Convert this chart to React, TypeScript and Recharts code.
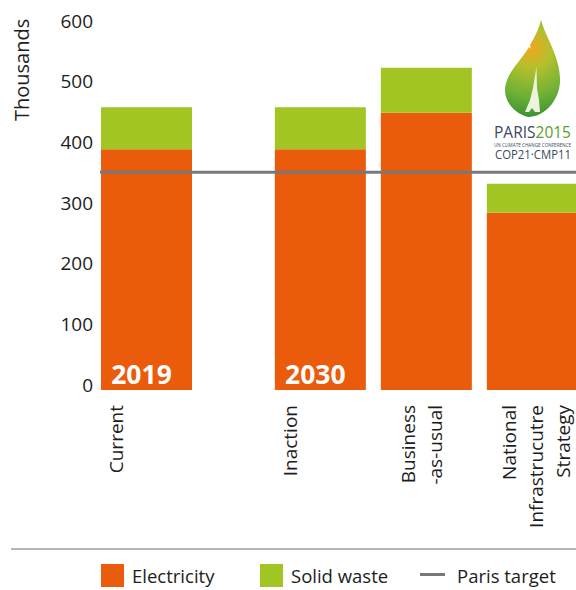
import React from 'react';
import { ComposedChart, Bar, XAxis, YAxis, ReferenceLine, LabelList, Legend } from 'recharts';

const FONT = '"Open Sans", sans-serif';
const TEXT = '#1d1d1b';
const ORANGE = '#ea5b0c';
const GREEN = '#a2c523';
const GREY = '#77787b';

const categories = [['Current'], ['Inaction'], ['Business', '-as-usual'], ['National', 'Infrastrucutre', 'Strategy']];
const slots = [0, 1.64, 2.64, 3.64];
const periods = ['2019', '2030', '', ''];
const electricity = [397, 397, 457, 292];
const solidWaste = [69, 69, 74, 48];
const parisTarget = 359;
const yTicks = [0, 100, 200, 300, 400, 500, 600];
const yTickLabels = ['0', '100', '200', '300', '400', '500', '600'];

const data = slots.map((slot, i) => ({
  slot,
  lines: categories[i],
  period: periods[i],
  electricity: electricity[i],
  solidWaste: solidWaste[i],
}));

const firstLineOffset: Record<number, number> = { 1: -24, 2: -11.5, 3: -16.5 };

const CategoryTick = ({ x, payload }: any) => {
  const row = data.find((d) => d.slot === payload.value);
  if (!row) return null;
  return (
    <g>
      {row.lines.map((line, i) => {
        const lx = x + firstLineOffset[row.lines.length] + i * 27;
        return (
          <text
            key={line}
            transform={`translate(${lx},405) rotate(-90)`}
            textAnchor="end"
            fontFamily={FONT}
            fontSize={19}
            fill={TEXT}
          >
            {line}
          </text>
        );
      })}
    </g>
  );
};

const LegendRow = () => (
  <div style={{ position: 'relative', width: 576, height: 42, fontFamily: FONT, fontSize: 18.5, color: TEXT }}>
    <div style={{ position: 'absolute', left: 101, top: 16, width: 23, height: 23, background: ORANGE }} />
    <div style={{ position: 'absolute', left: 132, top: 15, lineHeight: '25px' }}>Electricity</div>
    <div style={{ position: 'absolute', left: 260, top: 16, width: 23, height: 23, background: GREEN }} />
    <div style={{ position: 'absolute', left: 291, top: 15, lineHeight: '25px' }}>Solid waste</div>
    <div style={{ position: 'absolute', left: 420, top: 25, width: 25, height: 3, background: GREY }} />
    <div style={{ position: 'absolute', left: 457, top: 15, lineHeight: '25px' }}>Paris target</div>
  </div>
);

const Logo = () => (
  <svg width={96} height={156} viewBox="480 10 96 156" style={{ position: 'absolute', left: 480, top: 10 }}>
    <defs>
      <radialGradient id="leaf" gradientUnits="userSpaceOnUse" cx={531} cy={48} r={68}>
        <stop offset="0" stopColor="#f3a51f" />
        <stop offset="0.3" stopColor="#b3c02c" />
        <stop offset="0.7" stopColor="#6fb136" />
        <stop offset="1" stopColor="#3f9434" />
      </radialGradient>
    </defs>
    <path
      d="M541 20 C545 36 561 58 560 82 C559 101 544 117 528 117 C514 113 505 102 505 90 C505 74 520 62 529 47 L531 49 L530 45 C535 37 539 28 541 20 Z"
      fill="url(#leaf)"
    />
    <path d="M536.5 67 L537 88 L539 100 L540 112 L535 112 L532 108 L529 112 L525 112 L530 100 L533 88 Z" fill="#eef3dd" />
    <text x={494} y={138} fontFamily={FONT} fontSize={15.5} textLength={77} lengthAdjust="spacingAndGlyphs" fill="#3b4a63">
      PARIS<tspan fill="#5aa02c">2015</tspan>
    </text>
    <text x={494} y={146.5} fontFamily={FONT} fontSize={5.2} textLength={77} lengthAdjust="spacingAndGlyphs" fill="#3b4a63">
      UN CLIMATE CHANGE CONFERENCE
    </text>
    <text x={495} y={159} fontFamily={FONT} fontSize={13.5} textLength={76} lengthAdjust="spacingAndGlyphs" fill="#3b4a63">
      COP21·CMP11
    </text>
  </svg>
);

export default function App() {
  return (
    <div style={{ position: 'absolute', left: 0, top: 0, width: 576, height: 590, overflow: 'hidden', background: '#fff' }}>
      <ComposedChart width={576} height={590} data={data} margin={{ top: 26, right: 0, bottom: 0, left: 0 }}>
        <XAxis
          type="number"
          dataKey="slot"
          domain={[-0.4434, 4.0472]}
          ticks={slots}
          interval={0}
          height={158}
          axisLine={false}
          tickLine={false}
          tick={<CategoryTick />}
          allowDataOverflow
        />
        <YAxis
          type="number"
          domain={[0, 600]}
          ticks={yTicks}
          tickFormatter={(v: number) => yTickLabels[yTicks.indexOf(v)]}
          width={100}
          axisLine={false}
          tickLine={false}
          tickMargin={1}
          dy={-5}
          tick={{ fontFamily: FONT, fontSize: 19, fill: TEXT }}
          label={{
            content: () => (
              <text
                transform="translate(29,121) rotate(-90)"
                fontFamily={FONT}
                fontSize={20}
                fill={TEXT}
              >
                Thousands
              </text>
            ),
          }}
        />
        <Bar dataKey="electricity" name="Electricity" stackId="a" fill={ORANGE} barSize={91} isAnimationActive={false}>
          <LabelList
            dataKey="period"
            position="insideBottom"
            offset={6}
            dx={-5}
            fill="#fff"
            fontFamily={FONT}
            fontSize={26.5}
            fontWeight={700}
          />
        </Bar>
        <Bar dataKey="solidWaste" name="Solid waste" stackId="a" fill={GREEN} barSize={91} isAnimationActive={false} />
        <ReferenceLine y={parisTarget} stroke={GREY} strokeWidth={3} ifOverflow="extendDomain" />
        <Legend content={<LegendRow />} wrapperStyle={{ position: 'absolute', left: 0, top: 548, width: 576 }} />
      </ComposedChart>
      <div style={{ position: 'absolute', left: 11, top: 548, width: 565, height: 2, background: '#b5b6b8' }} />
      <Logo />
    </div>
  );
}
